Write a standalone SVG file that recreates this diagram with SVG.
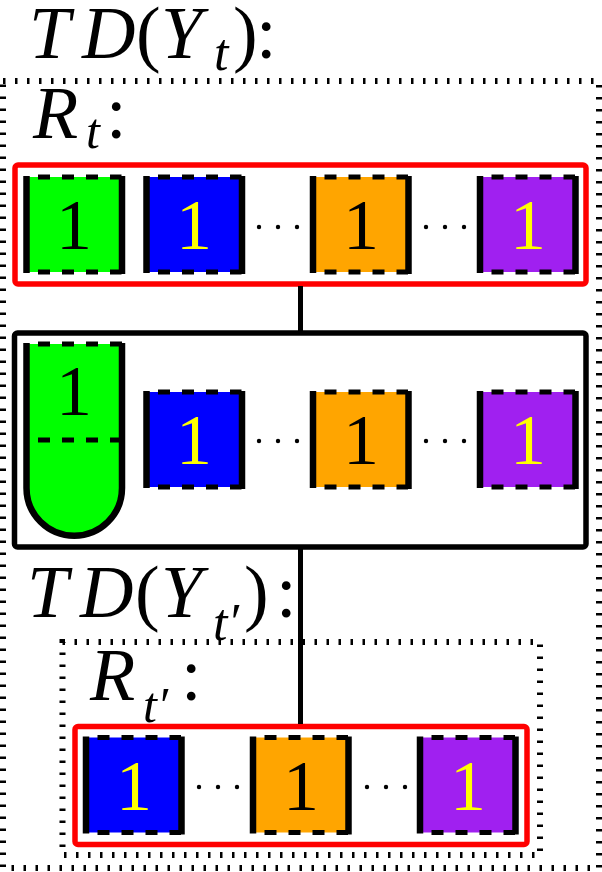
<svg xmlns="http://www.w3.org/2000/svg" width="602" height="872" viewBox="0 0 602 872">
<style>
.dotbox{fill:none;stroke:#000;stroke-width:6;stroke-dasharray:2.5 9.5}
.redbox{fill:none;stroke:#FF0000;stroke-width:5.5}
.blkbox{fill:none;stroke:#000;stroke-width:5.5}
.side{stroke:#000;stroke-width:6.5;fill:none}
.dash{stroke:#000;stroke-width:5;stroke-dasharray:12 12;stroke-dashoffset:12.5;fill:none}
.num{font-family:"Liberation Serif","DejaVu Serif",serif;font-size:72px;text-anchor:middle}
.math{font-family:"Liberation Serif","DejaVu Serif",serif;font-size:74px;fill:#000}
.it{font-style:italic}
.conn{stroke:#000;stroke-width:5;fill:none}
.g{fill:#00FF00}.b{fill:#0000FF}.o{fill:#FFA500}.p{fill:#A020F0}
.k{fill:#000}.y{fill:#FFFF00}
</style>
<defs>
<g id="sqframe">
<line class="dash" x1="0" y1="0" x2="95" y2="0"/>
<line class="dash" x1="0" y1="95" x2="95" y2="95"/>
<line class="side" x1="0" y1="-1" x2="0" y2="96"/>
<line class="side" x1="95.5" y1="-1" x2="95.5" y2="97"/>
</g>
</defs>

<g id="td-yt">
<rect class="dotbox" x="3" y="81" width="596" height="787"/>
<text class="math" y="58"><tspan class="it" x="29">T</tspan><tspan class="it" x="82">D</tspan><tspan x="136">(</tspan><tspan class="it" x="161">Y</tspan><tspan class="it" x="214" y="70" font-size="52">t</tspan><tspan x="233" y="58">)</tspan><tspan x="256">:</tspan></text>
</g>

<g id="r-t">
<text class="math" y="138" font-size="62"><tspan class="it" x="33">R</tspan><tspan class="it" x="86" y="148" font-size="50">t</tspan><tspan x="106" y="138">:</tspan></text>
<rect class="redbox" x="15" y="165" width="571" height="119" rx="3"/>
<g id="r-t-green"><rect class="g" x="26.5" y="177" width="95.5" height="95"/><use href="#sqframe" x="26.5" y="177"/><text class="num k" x="74" y="249">1</text></g>
<g id="r-t-blue"><rect class="b" x="146.5" y="177" width="95.5" height="95"/><use href="#sqframe" x="146.5" y="177"/><text class="num y" x="194" y="249">1</text></g>
<g id="r-t-orange"><rect class="o" x="313" y="177" width="95.5" height="95"/><use href="#sqframe" x="313" y="177"/><text class="num k" x="361" y="249">1</text></g>
<g id="r-t-purple"><rect class="p" x="480" y="177" width="95.5" height="95"/><use href="#sqframe" x="480" y="177"/><text class="num y" x="528" y="249">1</text></g>
<circle cx="259" cy="227" r="2.2"/><circle cx="278" cy="227" r="2.2"/><circle cx="297" cy="227" r="2.2"/>
<circle cx="426" cy="227" r="2.2"/><circle cx="445" cy="227" r="2.2"/><circle cx="464" cy="227" r="2.2"/>
</g>

<g id="bag">
<rect class="blkbox" x="14.5" y="333" width="571.5" height="214" rx="3"/>
<g id="bag-green">
<path class="g" d="M26.5,344 L26.5,488 A47.75,47.75 0 0 0 122,488 L122,344 Z"/>
<path class="side" d="M26.5,343 L26.5,488 A47.75,47.75 0 0 0 122,488 L122,343"/>
<line class="dash" x1="26.5" y1="344" x2="122" y2="344"/>
<line class="dash" x1="26.5" y1="440" x2="122" y2="440"/>
<text class="num k" x="74" y="415">1</text>
</g>
<g id="bag-blue"><rect class="b" x="146.5" y="392" width="95.5" height="95"/><use href="#sqframe" x="146.5" y="392"/><text class="num y" x="194" y="464">1</text></g>
<g id="bag-orange"><rect class="o" x="313" y="392" width="95.5" height="95"/><use href="#sqframe" x="313" y="392"/><text class="num k" x="361" y="464">1</text></g>
<g id="bag-purple"><rect class="p" x="480" y="392" width="95.5" height="95"/><use href="#sqframe" x="480" y="392"/><text class="num y" x="528" y="464">1</text></g>
<circle cx="259" cy="441" r="2.2"/><circle cx="278" cy="441" r="2.2"/><circle cx="297" cy="441" r="2.2"/>
<circle cx="426" cy="441" r="2.2"/><circle cx="445" cy="441" r="2.2"/><circle cx="464" cy="441" r="2.2"/>
</g>

<g id="td-yt2">
<rect class="dotbox" x="62.5" y="642" width="477.5" height="213"/>
<text class="math" y="617"><tspan class="it" x="27">T</tspan><tspan class="it" x="80">D</tspan><tspan x="135">(</tspan><tspan class="it" x="161">Y</tspan><tspan class="it" x="213" y="640" font-size="52">t′</tspan><tspan x="244" y="617">)</tspan><tspan x="276">:</tspan></text>
</g>

<g id="r-t2">
<text class="math" y="700" font-size="62"><tspan class="it" x="90">R</tspan><tspan class="it" x="143" y="722" font-size="50">t′</tspan><tspan x="181" y="700">:</tspan></text>
<rect class="redbox" x="75" y="726.5" width="452" height="118" rx="3"/>
<g id="r-t2-blue"><rect class="b" x="86" y="737.5" width="95.5" height="95"/><use href="#sqframe" x="86" y="737.5"/><text class="num y" x="134" y="809.5">1</text></g>
<g id="r-t2-orange"><rect class="o" x="253" y="737.5" width="95.5" height="95"/><use href="#sqframe" x="253" y="737.5"/><text class="num k" x="301" y="809.5">1</text></g>
<g id="r-t2-purple"><rect class="p" x="420" y="737.5" width="95.5" height="95"/><use href="#sqframe" x="420" y="737.5"/><text class="num y" x="468" y="809.5">1</text></g>
<circle cx="199" cy="787" r="2.2"/><circle cx="218" cy="787" r="2.2"/><circle cx="237" cy="787" r="2.2"/>
<circle cx="367" cy="787" r="2.2"/><circle cx="386" cy="787" r="2.2"/><circle cx="405" cy="787" r="2.2"/>
</g>

<g id="connectors">
<line class="conn" x1="300.5" y1="286" x2="300.5" y2="331"/>
<line class="conn" x1="300.5" y1="549" x2="300.5" y2="724"/>
</g>
</svg>
